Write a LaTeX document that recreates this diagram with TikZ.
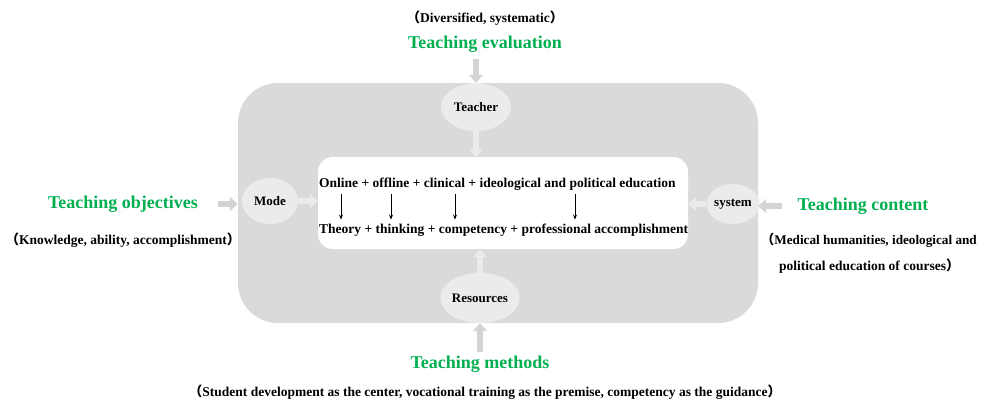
\documentclass[tikz,border=0pt]{standalone}
\usepackage{fontspec}
\setmainfont{Liberation Serif}
\newfontfamily\cjk{Noto Sans CJK SC}
\usetikzlibrary{arrows.meta,shapes.geometric,positioning}
\definecolor{tgreen}{HTML}{00B050}
\definecolor{boxgray}{HTML}{DADADA}
\definecolor{ellgray}{HTML}{EBEBEB}
\definecolor{arrgray}{HTML}{D4D4D4}
\newcommand{\lpar}{{\cjk （}}
\newcommand{\rpar}{{\cjk ）}}
\begin{document}
\begin{tikzpicture}[x=1pt,y=-1pt,
    txt/.style={font=\fontsize{13.5}{16}\selectfont\bfseries},
    title/.style={font=\fontsize{18}{21}\selectfont\bfseries,text=tgreen},
    tag/.style={ellipse,fill=ellgray,inner sep=0pt,font=\fontsize{13}{15}\selectfont\bfseries},
    outarrow/.style={draw=arrgray,line width=6pt,-{Triangle[width=14pt,length=8pt]}},
    inarrow/.style={outarrow,draw=ellgray},
    thinarrow/.style={-{Stealth[length=5pt,width=4pt]},line width=0.8pt}]
    \useasboundingbox (0,0) rectangle (983,402);
    % frame and core
    \node[fill=boxgray,rounded corners=40pt,minimum width=520pt,minimum height=240pt] (frame) at (498,203) {};
    \node[fill=white,rounded corners=15pt,minimum width=370pt,minimum height=92pt] (core) at (503,203) {};
    % ellipses
    \node[tag,minimum width=70pt,minimum height=48pt] (teacher) at (476,107) {Teacher};
    \node[tag,minimum width=56pt,minimum height=46pt] (mode) at (270,201) {Mode};
    \node[tag,minimum width=52pt,minimum height=40pt] (system) at (733,204) {system};
    \node[tag,minimum width=76pt,minimum height=50pt] (resources) at (480,298) {Resources};
    % core text
    \node[txt,anchor=west,inner sep=0pt] (ways) at (319,184) {Online + offline + clinical + ideological and political education};
    \node[txt,anchor=west,inner sep=0pt] (aims) at (319,230) {Theory + thinking + competency + professional accomplishment};
    \foreach \x in {341,391,455,575}
        \draw[thinarrow,shorten <=4pt,shorten >=4pt] (ways.south -| \x,0) -- (aims.north -| \x,0);
    % titles
    \node[txt] (evalnote) at (485,18) {\lpar Diversified, systematic\rpar};
    \node[title] (eval) at (485,44) {Teaching evaluation};
    \node[title] (objectives) at (123,204) {Teaching objectives};
    \node[txt] (objnote) at (123,240) {\lpar Knowledge, ability, accomplishment\rpar};
    \node[title] (content) at (863,206) {Teaching content};
    \node[txt,anchor=west,inner sep=0pt,font=\fontsize{13.2}{16}\selectfont\bfseries] (contnote) at (761,240) {\lpar Medical humanities, ideological and};
    \node[txt,anchor=west,inner sep=0pt] (contnotetwo) at (779,266) {political education of courses\rpar};
    \node[title] (methods) at (480,364) {Teaching methods};
    \node[txt] (methnote) at (485,392) {\lpar Student development as the center, vocational training as the premise, competency as the guidance\rpar};
    % block arrows
    \draw[outarrow,shorten <=3pt] (teacher |- eval.south) -- (teacher |- frame.north);
    \draw[inarrow] (teacher.south) -- (teacher |- core.north);
    \draw[outarrow,shorten <=17pt] (objectives.east) -- (frame.west |- objectives.east);
    \draw[inarrow] (mode.east) -- (mode -| core.west);
    \draw[outarrow,shorten <=12pt] (content.west) -- (frame.east |- content.west);
    \draw[inarrow] (system.west) -- (system -| core.east);
    \draw[outarrow] (resources |- methods.north) -- (resources |- frame.south);
    \draw[inarrow] (resources.north) -- (resources |- core.south);
\end{tikzpicture}
\end{document}
